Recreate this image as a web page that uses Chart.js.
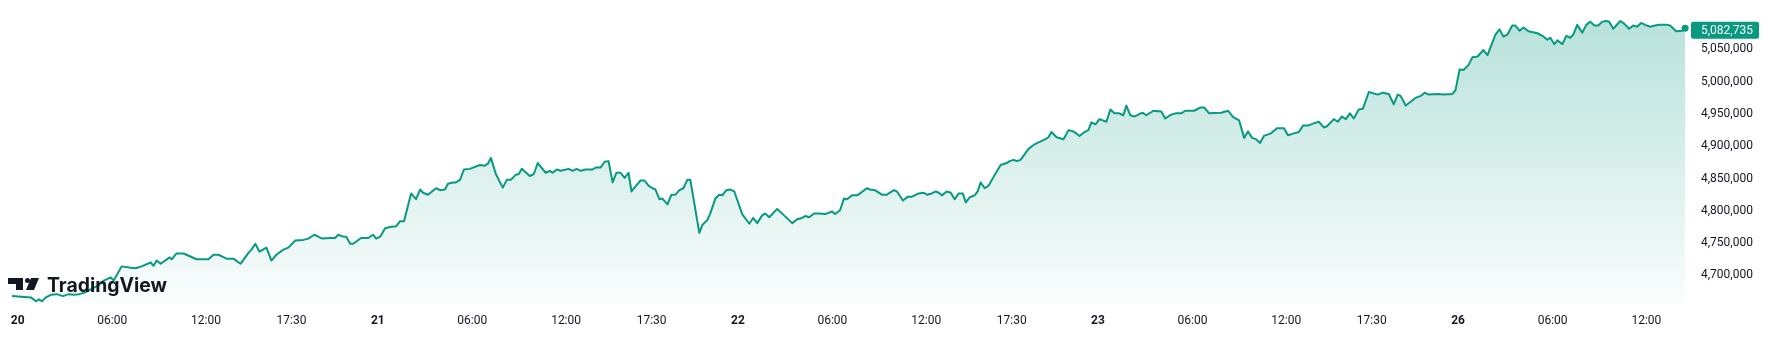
<!DOCTYPE html>
<html>
<head>
<meta charset="utf-8">
<script src="https://cdn.jsdelivr.net/npm/chart.js@4.4.1/dist/chart.umd.min.js"></script>
<style>
  html, body { margin: 0; padding: 0; background: #fff; }
  #wrap { position: relative; width: 1788px; height: 341px; }
</style>
</head>
<body>
<div id="wrap">
  <canvas id="chart" width="1788" height="341"></canvas>
</div>
<script>
// position on the session axis (hours since the 20th open, weekend removed)
const hours = [
  -0.38, 0.88, 1.22, 1.42, 1.62, 1.88, 2.21, 2.61, 3.01, 3.41, 3.74, 4.08, 4.41, 4.94, 5.41, 5.74, 6.20, 6.40, 6.93, 7.53,
  7.87, 8.26, 8.86, 9.06, 9.26, 9.53, 10.13, 10.26, 10.59, 11.06, 11.92, 12.39, 12.72, 13.05, 13.38, 13.92, 14.38, 14.85, 15.38, 15.58,
  15.84, 16.11, 16.58, 16.91, 17.24, 17.71, 18.04, 18.50, 19.04, 19.37, 19.77, 20.03, 20.30, 20.83, 21.16, 21.36, 21.70, 21.90, 22.16, 22.36,
  22.89, 23.36, 23.69, 23.89, 24.16, 24.49, 24.82, 25.22, 25.49, 25.75, 26.22, 26.55, 26.82, 27.02, 27.35, 27.88, 28.15, 28.48, 28.68, 29.01,
  29.21, 29.48, 29.74, 30.14, 30.80, 31.14, 31.34, 31.54, 31.87, 32.33, 32.60, 32.87, 33.20, 33.40, 33.60, 34.13, 34.40, 34.66, 35.19, 35.46,
  35.66, 35.92, 36.19, 36.72, 36.99, 37.25, 37.52, 37.85, 38.32, 38.52, 38.85, 39.12, 39.38, 39.65, 39.91, 40.18, 40.45, 40.71, 40.91, 41.18,
  41.51, 41.78, 42.04, 42.31, 42.51, 42.77, 42.97, 43.31, 43.57, 43.84, 44.10, 44.37, 44.63, 44.83, 45.43, 45.63, 45.97, 46.16, 46.50, 46.76,
  46.96, 47.23, 47.49, 47.76, 48.29, 48.76, 49.02, 49.29, 49.62, 49.82, 50.09, 50.62, 51.08, 51.62, 51.95, 52.28, 52.48, 52.75, 53.08, 53.41,
  53.81, 54.28, 54.48, 54.81, 55.07, 55.27, 55.61, 55.94, 56.14, 56.60, 56.80, 57.13, 57.60, 57.93, 58.40, 58.60, 59.00, 59.33, 59.60, 60.06,
  60.39, 60.59, 60.92, 61.19, 61.39, 61.59, 61.92, 62.19, 62.45, 62.72, 62.99, 63.19, 63.45, 63.78, 63.98, 64.18, 64.45, 64.71, 65.05, 65.51,
  65.91, 66.11, 66.38, 66.58, 66.84, 67.37, 67.71, 68.04, 68.50, 68.70, 68.90, 69.24, 69.70, 70.04, 70.37, 70.77, 71.10, 71.36, 71.56, 71.83,
  72.10, 72.56, 72.83, 73.09, 73.42, 73.69, 73.89, 74.16, 74.42, 74.96, 75.22, 75.69, 76.22, 76.48, 76.88, 77.21, 77.55, 77.81, 78.41, 78.81,
  79.08, 79.41, 80.21, 80.67, 81.01, 81.41, 81.74, 82.00, 82.27, 82.53, 82.80, 83.06, 83.53, 83.93, 84.40, 84.66, 85.06, 85.39, 85.66, 85.99,
  86.32, 86.72, 87.06, 87.26, 87.72, 87.99, 88.25, 88.52, 88.79, 89.05, 89.38, 89.65, 90.05, 90.65, 90.98, 91.38, 91.71, 91.98, 92.17, 92.51,
  92.84, 93.17, 93.51, 93.77, 94.04, 94.64, 95.04, 95.63, 95.83, 96.10, 96.36, 96.70, 96.96, 97.30, 97.69, 97.96, 98.49, 98.76, 99.02, 99.29,
  99.61, 99.82, 100.09, 100.36, 100.69, 101.29, 101.62, 101.95, 102.15, 102.42, 102.62, 102.95, 103.21, 103.48, 103.68, 103.94, 104.28, 104.54, 104.81, 105.08,
  105.34, 105.61, 105.87, 106.07, 106.34, 106.81, 107.07, 107.40, 107.67, 107.93, 108.20, 108.47, 108.80, 109.13, 109.40, 109.93, 110.13, 110.53, 110.93, 111.13
];

const values = [
  4668000, 4666000, 4660000, 4663000, 4660000, 4666000, 4670000, 4671000, 4668000, 4671000, 4670000, 4671000, 4673000, 4679000, 4685000, 4692000, 4697000, 4692000, 4714000, 4712000,
  4711000, 4714000, 4720000, 4715000, 4723000, 4718000, 4728000, 4725000, 4734000, 4734000, 4725000, 4725000, 4725000, 4732000, 4732000, 4726000, 4726000, 4718000, 4735000, 4740000,
  4749000, 4737000, 4743000, 4723000, 4732000, 4740000, 4743000, 4754000, 4755000, 4757000, 4763000, 4760000, 4757000, 4758000, 4758000, 4763000, 4760000, 4760000, 4749000, 4749000,
  4758000, 4758000, 4763000, 4757000, 4760000, 4773000, 4775000, 4776000, 4784000, 4784000, 4827000, 4818000, 4833000, 4828000, 4825000, 4835000, 4832000, 4833000, 4842000, 4844000,
  4844000, 4848000, 4864000, 4865000, 4871000, 4870000, 4873000, 4882000, 4857000, 4836000, 4848000, 4848000, 4856000, 4857000, 4865000, 4854000, 4857000, 4874000, 4859000, 4862000,
  4859000, 4864000, 4862000, 4865000, 4862000, 4865000, 4862000, 4864000, 4864000, 4867000, 4867000, 4876000, 4877000, 4844000, 4859000, 4859000, 4851000, 4859000, 4830000, 4838000,
  4847000, 4847000, 4839000, 4835000, 4833000, 4818000, 4819000, 4810000, 4825000, 4825000, 4832000, 4835000, 4848000, 4848000, 4766000, 4778000, 4786000, 4796000, 4819000, 4825000,
  4824000, 4832000, 4833000, 4830000, 4795000, 4780000, 4789000, 4781000, 4793000, 4796000, 4790000, 4803000, 4793000, 4781000, 4787000, 4789000, 4792000, 4790000, 4796000, 4796000,
  4795000, 4799000, 4795000, 4801000, 4819000, 4818000, 4824000, 4824000, 4827000, 4835000, 4833000, 4832000, 4825000, 4825000, 4832000, 4830000, 4816000, 4822000, 4822000, 4827000,
  4828000, 4825000, 4827000, 4830000, 4828000, 4824000, 4830000, 4828000, 4818000, 4827000, 4827000, 4813000, 4821000, 4824000, 4830000, 4844000, 4835000, 4839000, 4853000, 4871000,
  4874000, 4877000, 4879000, 4877000, 4879000, 4896000, 4902000, 4906000, 4911000, 4914000, 4922000, 4914000, 4911000, 4925000, 4923000, 4916000, 4922000, 4925000, 4937000, 4934000,
  4942000, 4938000, 4957000, 4951000, 4951000, 4948000, 4963000, 4948000, 4946000, 4952000, 4948000, 4955000, 4954000, 4943000, 4949000, 4951000, 4951000, 4955000, 4955000, 4960000,
  4960000, 4951000, 4952000, 4955000, 4945000, 4940000, 4913000, 4923000, 4913000, 4911000, 4905000, 4916000, 4920000, 4928000, 4928000, 4917000, 4920000, 4922000, 4932000, 4932000,
  4935000, 4938000, 4929000, 4931000, 4942000, 4938000, 4946000, 4942000, 4951000, 4943000, 4957000, 4958000, 4984000, 4980000, 4983000, 4981000, 4965000, 4980000, 4978000, 4963000,
  4969000, 4975000, 4978000, 4983000, 4980000, 4981000, 4980000, 4981000, 4987000, 5019000, 5018000, 5026000, 5038000, 5039000, 5049000, 5041000, 5073000, 5081000, 5070000, 5073000,
  5087000, 5087000, 5079000, 5084000, 5078000, 5075000, 5071000, 5065000, 5068000, 5058000, 5064000, 5058000, 5071000, 5068000, 5073000, 5088000, 5076000, 5088000, 5093000, 5087000,
  5087000, 5093000, 5094000, 5093000, 5082000, 5094000, 5090000, 5082000, 5087000, 5085000, 5091000, 5088000, 5085000, 5087000, 5088000, 5088000, 5087000, 5078000, 5079000, 5082735
];

const dayLabels = ['20', '21', '22', '23', '26'];
const timeLabels = ['06:00', '12:00', '17:30'];
const timeSlots = [6.3, 12.55, 18.25];
const priceTicks = [4700000, 4750000, 4800000, 4850000, 4900000, 4950000, 5000000, 5050000];

const LINE = '#089981';
const TEXT = '#131722';
const X_MIN = -0.911, X_MAX = 111.19;
const Y_MIN = 4657300, Y_MAX = 5120300;

const xTicks = [];
dayLabels.forEach((d, i) => {
  xTicks.push({ value: i * 24, label: d, bold: true });
  timeSlots.forEach((s, j) => {
    if (i * 24 + s <= X_MAX) xTicks.push({ value: i * 24 + s, label: timeLabels[j], bold: false });
  });
});

const fmt = v => v.toLocaleString('en-US');

const overlay = {
  id: 'overlay',
  afterDraw(chart) {
    const ctx = chart.ctx;
    const last = values[values.length - 1];
    const py = chart.scales.y.getPixelForValue(last);
    ctx.save();
    // last price tag
    ctx.fillStyle = LINE;
    ctx.beginPath();
    ctx.roundRect(1691, py - 6.5, 68, 17, 2);
    ctx.fill();
    ctx.fillStyle = '#fff';
    ctx.font = '12px Roboto';
    ctx.textBaseline = 'middle';
    ctx.textAlign = 'left';
    ctx.fillText(fmt(last), 1701, py + 2.5);

    // watermark
    ctx.fillStyle = TEXT;
    ctx.beginPath();
    ctx.moveTo(8, 278); ctx.lineTo(23, 278); ctx.lineTo(23, 290); ctx.lineTo(16, 290);
    ctx.lineTo(16, 284); ctx.lineTo(8, 284); ctx.closePath();
    ctx.fill();
    ctx.beginPath();
    ctx.arc(27.5, 280.5, 2.5, 0, Math.PI * 2);
    ctx.fill();
    ctx.beginPath();
    ctx.moveTo(31, 278); ctx.lineTo(39, 278); ctx.lineTo(34, 290); ctx.lineTo(26, 290);
    ctx.closePath();
    ctx.fill();
    ctx.font = '700 19.4px Inter';
    ctx.textBaseline = 'alphabetic';
    ctx.fillText('TradingView', 47, 292);
    ctx.restore();
  }
};

new Chart(document.getElementById('chart'), {
  type: 'line',
  data: {
    datasets: [{
      data: hours.map((h, i) => ({ x: h, y: values[i] })),
      borderColor: LINE,
      borderWidth: 2,
      borderJoinStyle: 'round',
      tension: 0,
      fill: 'start',
      backgroundColor: ctx => {
        const area = ctx.chart.chartArea;
        if (!area) return 'rgba(8,153,129,0.15)';
        const g = ctx.chart.ctx.createLinearGradient(0, area.top, 0, area.bottom);
        g.addColorStop(0, 'rgba(8,153,129,0.30)');
        g.addColorStop(1, 'rgba(8,153,129,0.02)');
        return g;
      },
      pointRadius: ctx => ctx.dataIndex === values.length - 1 ? 3.5 : 0,
      pointBackgroundColor: LINE,
      pointBorderWidth: 0,
      clip: false
    }]
  },
  options: {
    responsive: false,
    animation: false,
    devicePixelRatio: 1,
    layout: { padding: 0 },
    plugins: { legend: { display: false }, tooltip: { enabled: false } },
    scales: {
      x: {
        type: 'linear',
        min: X_MIN,
        max: X_MAX,
        grid: { display: false, drawTicks: false },
        border: { display: false },
        afterBuildTicks: s => { s.ticks = xTicks.map(t => ({ value: t.value })); },
        afterFit: s => { s.height = 38; s.paddingLeft = 0; s.paddingRight = 0; },
        ticks: {
          autoSkip: false,
          maxRotation: 0,
          padding: 11,
          color: TEXT,
          font: ctx => ({ family: 'Roboto', size: 12, weight: xTicks[ctx.index] && xTicks[ctx.index].bold ? 'bold' : 'normal' }),
          callback: (v, i) => xTicks[i] ? xTicks[i].label : ''
        }
      },
      y: {
        position: 'right',
        min: Y_MIN,
        max: Y_MAX,
        grid: { display: false, drawTicks: false },
        border: { display: false },
        afterBuildTicks: s => { s.ticks = priceTicks.map(v => ({ value: v })); },
        afterFit: s => { s.width = 102; s.paddingTop = 0; s.paddingBottom = 0; },
        ticks: {
          padding: 15,
          color: TEXT,
          font: { family: 'Roboto', size: 12 },
          callback: v => fmt(v)
        }
      }
    }
  },
  plugins: [overlay]
});
</script>
</body>
</html>
